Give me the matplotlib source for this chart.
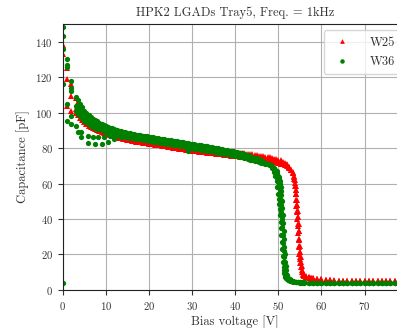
import matplotlib
matplotlib.use("Agg")
import matplotlib.pyplot as plt

plt.rcParams['font.family'] = ['cmr10', 'DejaVu Serif']
plt.rcParams['mathtext.fontset'] = 'cm'
plt.rcParams['axes.unicode_minus'] = False
plt.rcParams['axes.formatter.use_mathtext'] = True

title = "HPK2 LGADs Tray5, Freq. = 1kHz"
xlabel = "Bias voltage [V]"
ylabel = "Capacitance [pF]"
labels = ["W25", "W36"]

# ---- W36 (green) voltage grid ----
v_w36 = [0, 1, 2,
         3, 3.5, 4, 4.5, 5, 5.5, 6, 6.5, 7, 7.5,
         8, 8.5, 9, 9.5, 10, 10.5, 11, 11.5, 12, 12.5,
         13, 13.5, 14, 14.5, 15, 15.5, 16, 16.5, 17, 17.5,
         18, 18.5, 19, 19.5, 20, 20.5, 21, 21.5, 22, 22.5,
         23, 23.5, 24, 24.5, 25, 25.5, 26, 26.5, 27, 27.5,
         28, 28.5, 29, 29.5, 30, 30.5, 31, 31.5, 32, 32.5,
         33, 33.5, 34, 34.5, 35, 35.5, 36, 36.5, 37, 37.5,
         38, 38.5, 39, 39.5, 40, 40.5, 41, 41.5, 42, 42.5,
         43, 43.5, 44, 44.5, 45, 45.5, 46, 46.5, 47, 47.5,
         48,
         48.5, 49, 49.3, 49.6, 49.8,
         50.0, 50.1, 50.2, 50.3, 50.4, 50.5, 50.6, 50.7, 50.8, 50.9,
         51.0, 51.1, 51.2, 51.3, 51.4, 51.5, 51.6, 51.7, 51.8,
         52.0, 52.3, 52.6, 53, 53.5, 54, 54.5, 55, 55.5, 56,
         57, 58, 59, 60, 61, 62, 63, 64, 65, 66, 67, 68, 69, 70, 71, 72, 73, 74, 75, 76, 77]

c_w36_a = [148, 130, 118,
           109, 107, 105, 103, 101, 99.7, 98.5, 97.5, 96.5, 95.7,
           95, 94.2, 93.5, 93, 92.5, 92, 91.6, 91.2, 90.7, 90.3,
           89.9, 89.6, 89.2, 88.9, 88.6, 88.3, 88.1, 87.8, 87.6, 87.4,
           87.2, 87, 86.8, 86.6, 86.4, 86.2, 86, 85.8, 85.6, 85.4,
           85.2, 85, 84.8, 84.6, 84.4, 84.2, 84, 83.8, 83.6, 83.4,
           83.2, 83, 82.8, 82.5, 82.3, 82.1, 81.9, 81.7, 81.5, 81.3,
           81.1, 80.9, 80.7, 80.5, 80.3, 80.1, 79.9, 79.6, 79.4, 79.1,
           78.9, 78.6, 78.4, 78.1, 77.9, 77.6, 77.3, 77, 76.6, 76.2,
           75.9, 75.5, 75.1, 74.6, 74.2, 73.6, 73.1, 72.4, 71.8, 71,
           70.2,
           68.6, 66.5, 64.5, 61.5, 58,
           54, 51.5, 48.5, 45.5, 42, 38.5, 35, 31, 27, 23,
           19, 16, 13, 11, 9.5, 8.4, 7.5, 7, 6.5,
           6, 5.5, 5.1, 4.8, 4.6, 4.4, 4.3, 4.2, 4.1, 4.1,
           4.0, 4.0, 4.0, 4.0, 4.0, 4.0, 4.0, 4.0, 4.0, 4.0, 4.0, 4.0, 4.0, 4.0, 4.0, 4.0, 4.0, 4.0, 4.0, 4.0, 4.0]

c_w36_b = [143, 127, 114,
           104, 102.5, 101, 99.5, 98, 97, 96, 95, 94, 93.2,
           92.5, 92, 91.5, 91, 90.5, 90.1, 89.7, 89.3, 89, 88.7,
           88.4, 88.1, 87.9, 87.6, 87.4, 87.2, 87, 86.8, 86.6, 86.4,
           86.2, 86, 85.8, 85.6, 85.4, 85.2, 85, 84.8, 84.6, 84.4,
           84.2, 84, 83.8, 83.6, 83.4, 83.2, 83, 82.8, 82.6, 82.4,
           82.2, 81.9, 81.6, 81.3, 81.1, 80.9, 80.7, 80.5, 80.3, 80.1,
           79.9, 79.7, 79.5, 79.3, 79.1, 78.9, 78.7, 78.5, 78.3, 78.1,
           77.9, 77.7, 77.4, 77.2, 76.9, 76.6, 76.3, 76, 75.7, 75.4,
           75.0, 74.7, 74.3, 73.9, 73.5, 73.1, 72.6, 72.1, 71.5, 70.9,
           70.2,
           69.4, 67.8, 66.5, 64.8, 63.2,
           61.2, 60, 58.5, 56.5, 54, 51, 48, 44, 40, 35.5,
           31, 26.5, 22, 18.5, 15, 12.5, 10.5, 9.2, 8.2,
           7, 6.2, 5.7, 5.2, 4.9, 4.6, 4.5, 4.4, 4.3, 4.3,
           4.2, 4.2, 4.2, 4.1, 4.1, 4.1, 4.1, 4.1, 4.1, 4.1, 4.1, 4.1, 4.1, 4.1, 4.1, 4.1, 4.1, 4.1, 4.1, 4.1, 4.1]

c_w36_c = [136, 125.5, 112,
           101, 99.5, 98, 96.7, 95.5, 94.5, 93.5, 92.7, 92, 91.5,
           91, 90.5, 90, 89.5, 89, 88.6, 88.3, 88, 87.7, 87.4,
           87.1, 86.9, 86.6, 86.3, 86.1, 85.9, 85.7, 85.5, 85.3, 85.1,
           84.9, 84.7, 84.5, 84.3, 84.1, 83.9, 83.7, 83.5, 83.3, 83.1,
           82.9, 82.7, 82.5, 82.3, 82.1, 81.9, 81.7, 81.5, 81.3, 81.1,
           80.9, 80.6, 78.2, 80.1, 79.9, 79.7, 79.5, 79.3, 79.1, 78.9,
           78.7, 78.5, 78.3, 78.1, 77.9, 77.7, 77.5, 77.3, 77.1, 76.9,
           76.7, 76.5, 76.2, 75.9, 75.7, 75.4, 75.1, 74.8, 74.5, 74.2,
           73.9, 73.5, 73.2, 72.9, 72.5, 72.2, 71.8, 71.5, 71.1, 70.8,
           70.5,
           69.8, 68.8, 67.9, 66.8, 65.8,
           64.5, 63.6, 62.5, 61.3, 60, 58.2, 56, 53.3, 50, 46.2,
           42, 37.5, 33, 28.5, 24, 20, 16, 13.3, 11,
           8.5, 6.8, 6, 5.3, 4.9, 4.7, 4.5, 4.4, 4.3, 4.3,
           4.2, 4.2, 4.1, 4.1, 4.1, 4.1, 4.1, 4.1, 4.1, 4.1, 4.1, 4.1, 4.1, 4.1, 4.1, 4.1, 4.1, 4.1, 4.1, 4.1, 4.1]

v_w36_d = [0, 1, 2, 3, 4.3, 5.9, 7.1, 8.2, 9.5, 11, 12.5, 14]
c_w36_d = [116, 104.8, 98.2, 92.5, 89, 86.9, 86.5, 86.3, 86.5, 87, 87.5, 87.3]
v_w36_e = [0, 1, 2, 3.5, 4.3, 5.9, 7.4, 9, 10.5, 12, 13.5, 15]
c_w36_e = [4, 95.4, 93.5, 88.8, 86, 83.1, 82.5, 82.5, 83.7, 85, 86, 86.6]

# ---- W25 (red) voltage grid ----
v_w25 = [0, 1, 2,
         3, 3.5, 4, 4.5, 5, 5.5, 6, 6.5, 7, 7.5,
         8, 8.5, 9, 9.5, 10, 10.5, 11, 11.5, 12, 12.5,
         13, 13.5, 14, 14.5, 15, 15.5, 16, 16.5, 17, 17.5,
         18, 18.5, 19, 19.5, 20, 20.5, 21, 21.5, 22, 22.5,
         23, 23.5, 24, 24.5, 25, 25.5, 26, 26.5, 27, 27.5,
         28, 28.5, 29, 29.5, 30, 30.5, 31, 31.5, 32, 32.5,
         33, 33.5, 34, 34.5, 35, 35.5, 36, 36.5, 37, 37.5,
         38, 38.5, 39, 39.5, 40, 40.5, 41, 41.5, 42, 42.5,
         43, 43.5, 44, 44.5, 45, 45.5, 46, 46.5, 47, 47.5,
         48, 48.5, 49, 49.5, 50,
         50.5, 51, 51.5, 52, 52.5, 53, 53.3, 53.6, 53.8,
         54.0, 54.1, 54.2, 54.3, 54.4, 54.5, 54.6, 54.7, 54.8, 54.9, 55.0, 55.1, 55.2,
         55.4, 55.7, 56, 56.5, 57, 57.5, 58, 59, 60,
         61, 62, 63, 64, 65, 66, 67, 68, 69, 70, 71, 72, 73, 74, 75, 76, 77]

c_w25_a = [144, 125, 116,
           108, 106, 103.5, 101.7, 100, 98.7, 97.5, 96.5, 95.5, 94.7,
           94, 93.2, 92.5, 92, 91.5, 91, 90.4, 90, 89.5, 89.1,
           88.7, 88.3, 88, 87.7, 87.3, 87, 86.7, 86.4, 86.1, 85.9,
           85.6, 85.4, 85.1, 84.9, 84.6, 84.4, 84.2, 84, 83.8, 83.6,
           83.4, 83.2, 83, 82.8, 82.6, 82.4, 82.2, 82, 81.8, 81.6,
           81.4, 81.2, 81, 80.8, 80.6, 80.4, 80.3, 80.1, 80, 79.8,
           79.7, 79.5, 79.4, 79.2, 79.1, 78.9, 78.8, 78.6, 78.5, 78.3,
           78.2, 78, 77.9, 77.7, 77.6, 77.4, 77.3, 77.1, 77, 76.8,
           76.7, 76.5, 76.4, 76.2, 76, 75.8, 75.6, 75.4, 75.2, 75,
           74.7, 74.4, 74.1, 73.8, 73.4,
           73, 72.4, 71.7, 70.8, 69.5, 67.6, 65.8, 62.5, 58.8,
           54, 51, 47.5, 44, 40, 36, 32, 28, 24, 20.5, 17.5, 15, 12.8,
           10, 8.4, 7.6, 7.1, 6.8, 6.5, 6.3, 6.0, 5.7,
           5.6, 5.4, 5.2, 5.1, 5.0, 4.9, 4.9, 4.8, 4.8, 4.8, 4.8, 4.8, 4.8, 4.8, 4.8, 4.8, 4.8]

c_w25_b = [138, 119, 109.5,
           102, 100.5, 99, 97.7, 96.5, 95.5, 94.5, 93.7, 93, 92.2,
           91.5, 91, 90.5, 90, 89.5, 89, 88.5, 88.1, 87.7, 87.3,
           87, 86.7, 86.4, 86.1, 85.8, 85.5, 85.3, 85, 84.8, 84.6,
           84.4, 84.2, 84, 83.8, 83.6, 83.4, 83.2, 83, 82.8, 82.6,
           82.4, 82.2, 82, 81.8, 81.6, 81.4, 81.2, 81, 80.8, 80.6,
           80.4, 80.2, 80, 79.8, 79.6, 79.4, 79.3, 79.1, 79.0, 78.8,
           78.7, 78.5, 78.4, 78.2, 78.1, 77.9, 77.8, 77.6, 77.5, 77.3,
           77.2, 77, 76.9, 76.7, 76.6, 76.4, 76.3, 76.1, 76, 75.8,
           75.7, 75.5, 75.4, 75.2, 75.0, 74.8, 74.6, 74.5, 74.3, 74.1,
           73.9, 73.6, 73.3, 73, 72.7,
           72.3, 71.8, 71.2, 70.4, 69.3, 67.7, 66.2, 63.5, 60.5,
           56.5, 54, 51, 48, 44.5, 41, 37, 33, 29, 25, 21.5, 18.5, 15.5,
           11.5, 9, 8, 7.4, 7.1, 6.8, 6.6, 6.2, 5.9,
           5.7, 5.5, 5.3, 5.2, 5.1, 5.0, 5.0, 4.9, 4.9, 4.9, 4.8, 4.8, 4.8, 4.8, 4.8, 4.8, 4.8]

c_w25_c = [133, 104, 101,
           100, 98.7, 97.2, 96, 94.7, 93.7, 92.7, 92, 91.2, 90.6,
           90.1, 89.6, 89.1, 88.7, 88.2, 87.8, 87.4, 87, 86.6, 86.3,
           85.9, 85.6, 85.3, 85, 84.7, 84.5, 84.2, 84, 83.7, 83.5,
           83.3, 83.1, 82.9, 82.7, 82.5, 82.3, 82.1, 81.9, 81.7, 81.5,
           81.3, 81.1, 80.9, 80.7, 80.5, 80.3, 80.1, 79.9, 79.7, 79.5,
           79.3, 79.1, 78.9, 78.7, 78.5, 78.3, 78.2, 78, 77.9, 77.7,
           77.6, 77.4, 77.3, 77.1, 77, 76.8, 76.7, 76.5, 76.4, 76.2,
           76.1, 75.9, 75.8, 75.6, 75.5, 75.3, 75.2, 75, 74.9, 74.7,
           74.6, 74.4, 74.3, 74.1, 73.9, 73.7, 73.5, 73.3, 73.1, 72.9,
           72.7, 72.5, 72.2, 71.9, 71.6,
           71.3, 70.9, 70.4, 69.7, 68.8, 67.5, 66.3, 64.5, 62,
           58.5, 56.3, 54, 51, 48, 44.5, 41, 37, 33, 29, 25, 21.5, 18.5,
           13.5, 10, 8.5, 7.7, 7.3, 6.9, 6.7, 6.3, 6.0,
           5.8, 5.6, 5.4, 5.2, 5.1, 5.0, 5.0, 4.9, 4.9, 4.9, 4.8, 4.8, 4.8, 4.8, 4.8, 4.8, 4.8]

xticks = [0, 10, 20, 30, 40, 50, 60, 70]
yticks = [0, 20, 40, 60, 80, 100, 120, 140]

fig = plt.figure(figsize=(3.97, 3.28), dpi=100)
ax = fig.add_axes([0.158, 0.116, 0.869, 0.811])

red_kw = dict(linestyle='none', marker='^', color='red', markersize=4.0, markeredgewidth=0)
green_kw = dict(linestyle='none', marker='o', color='green', markersize=3.8, markeredgewidth=0)

ax.plot(v_w25, c_w25_a, label=labels[0], **red_kw)
ax.plot(v_w25, c_w25_b, **red_kw)
ax.plot(v_w25, c_w25_c, **red_kw)

ax.plot(v_w36, c_w36_a, label=labels[1], **green_kw)
ax.plot(v_w36, c_w36_b, **green_kw)
ax.plot(v_w36, c_w36_c, **green_kw)
ax.plot(v_w36_d, c_w36_d, **green_kw)
ax.plot(v_w36_e, c_w36_e, **green_kw)

ax.set_xlim(0, 80)
ax.set_ylim(0, 150)
ax.set_xticks(xticks)
ax.set_yticks(yticks)
ax.tick_params(labelsize=7.7, colors='#333333', labelcolor='#333333')
ax.grid(True, color='#b0b0b0', linewidth=0.8)
ax.set_axisbelow(True)
for s in ax.spines.values():
    s.set_color('#222222')
ax.set_title(title, fontsize=9, pad=6, color='#333333')
ax.set_xlabel(xlabel, fontsize=9, color='#333333', labelpad=3)
ax.set_ylabel(ylabel, fontsize=9, color='#333333', labelpad=4)
leg = ax.legend(loc='upper right', fontsize=9, markerscale=0.85, handletextpad=1.2,
                borderpad=0.5, labelspacing=0.6)
for t in leg.get_texts():
    t.set_color('#333333')

fig.savefig('out.png', dpi=100)
